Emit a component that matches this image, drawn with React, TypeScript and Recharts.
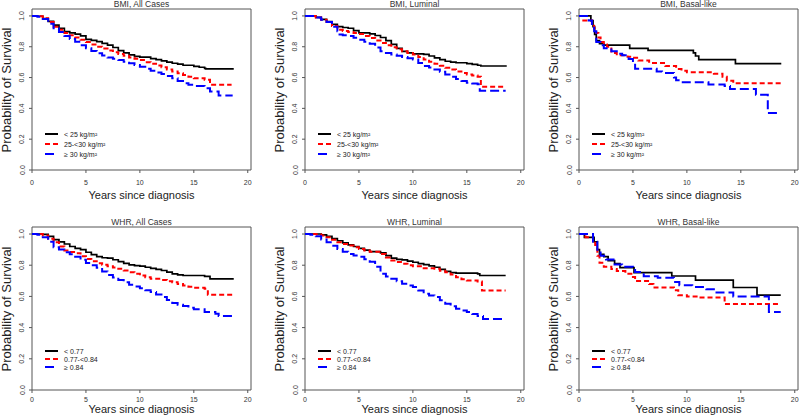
import React from 'react';
import { LineChart, Line, XAxis, YAxis, ReferenceArea, Legend } from 'recharts';

type Pt = [number, number];

const X_TICKS = [0, 5, 10, 15, 20];
const Y_TICKS = [0, 0.2, 0.4, 0.6, 0.8, 1.0];
const BMI_GROUPS = ['< 25 kg/m²', '25-<30 kg/m²', '≥ 30 kg/m²'];
const WHR_GROUPS = ['< 0.77', '0.77-<0.84', '≥ 0.84'];
const TITLES = ['BMI, All Cases', 'BMI, Luminal', 'BMI, Basal-like', 'WHR, All Cases', 'WHR, Luminal', 'WHR, Basal-like'];
const X_TITLE = 'Years since diagnosis';
const Y_TITLE = 'Probability of Survival';

// BMI, All Cases
const bmiAllLow: Pt[] = [[0,1],[0.5,0.998],[1,0.983],[1.5,0.965],[2,0.94],[2.5,0.92],[3,0.898],[3.5,0.89],[4,0.882],[4.5,0.87],[5,0.848],[5.5,0.842],[6,0.833],[6.5,0.822],[7,0.81],[7.5,0.795],[8,0.775],[8.5,0.76],[9,0.747],[9.5,0.737],[10,0.732],[11,0.723],[11.5,0.716],[12,0.708],[12.5,0.7],[13,0.693],[13.5,0.687],[14,0.68],[15,0.673],[15.5,0.667],[16,0.66],[16.1,0.656],[18.7,0.656]];
const bmiAllMid: Pt[] = [[0,1],[0.5,0.998],[1,0.985],[1.5,0.96],[2,0.93],[2.5,0.91],[3,0.89],[3.5,0.875],[4,0.86],[4.5,0.845],[5,0.83],[5.5,0.815],[6,0.8],[6.5,0.788],[7,0.775],[7.5,0.765],[8,0.753],[8.5,0.742],[9,0.73],[9.5,0.722],[10,0.714],[10.5,0.7],[11,0.69],[11.5,0.678],[12,0.667],[12.5,0.653],[13,0.64],[13.5,0.628],[14,0.617],[14.5,0.605],[15,0.595],[16,0.585],[16.5,0.553],[18.5,0.553]];
const bmiAllHigh: Pt[] = [[0,1],[0.5,0.995],[1,0.98],[1.5,0.95],[2,0.92],[2.5,0.895],[3,0.87],[3.5,0.85],[4,0.833],[4.5,0.81],[5,0.79],[5.5,0.772],[6,0.757],[6.5,0.743],[7,0.73],[7.5,0.722],[8,0.714],[8.5,0.703],[9,0.693],[9.5,0.682],[10,0.67],[10.5,0.657],[11,0.645],[11.5,0.633],[12,0.623],[12.5,0.61],[13,0.595],[13.5,0.578],[14,0.563],[14.5,0.553],[15,0.545],[16,0.53],[16.5,0.51],[17.3,0.483],[18.6,0.483]];

// BMI, Luminal
const bmiLumLow: Pt[] = [[0,1],[1,0.99],[1.5,0.978],[2,0.963],[2.5,0.945],[3,0.93],[3.5,0.925],[4,0.92],[4.5,0.905],[5,0.89],[6,0.883],[6.5,0.873],[7,0.86],[7.5,0.84],[8,0.815],[8.5,0.79],[9,0.77],[9.5,0.76],[10,0.754],[11,0.75],[11.5,0.74],[12,0.728],[12.5,0.717],[13,0.706],[13.5,0.7],[14,0.696],[15,0.69],[15.5,0.685],[16,0.68],[16.3,0.675],[18.7,0.675]];
const bmiLumMid: Pt[] = [[0,1],[1,0.99],[1.5,0.975],[2,0.96],[2.5,0.935],[3,0.91],[3.5,0.902],[4,0.895],[4.5,0.889],[5,0.883],[5.5,0.87],[6,0.857],[6.5,0.84],[7,0.825],[7.5,0.81],[8,0.797],[8.5,0.783],[9,0.77],[9.5,0.76],[10,0.75],[10.5,0.733],[11,0.717],[11.5,0.703],[12,0.69],[12.5,0.677],[13,0.664],[13.5,0.652],[14,0.64],[14.5,0.63],[15,0.62],[15.5,0.613],[16,0.606],[16.3,0.54],[18.6,0.54]];
const bmiLumHigh: Pt[] = [[0,1],[1,0.99],[1.5,0.975],[2,0.96],[2.5,0.93],[3,0.9],[3.2,0.88],[3.5,0.875],[4,0.87],[4.5,0.858],[5,0.846],[5.5,0.833],[6,0.82],[6.5,0.795],[7,0.77],[7.5,0.76],[8,0.75],[8.5,0.742],[9,0.734],[9.5,0.725],[10,0.717],[10.5,0.695],[11,0.675],[11.5,0.665],[12,0.653],[12.5,0.637],[13,0.62],[13.5,0.605],[14,0.59],[14.5,0.578],[15,0.567],[15.5,0.562],[16,0.557],[16.2,0.514],[18.6,0.514]];

// BMI, Basal-like
const bmiBasLow: Pt[] = [[0,1],[1.1,0.97],[1.3,0.93],[1.45,0.88],[1.6,0.84],[1.9,0.82],[2.3,0.81],[4.7,0.79],[6.4,0.777],[10.6,0.76],[10.8,0.74],[11.1,0.717],[14.5,0.69],[18.75,0.69]];
const bmiBasMid: Pt[] = [[0,1],[0.4,0.97],[1.2,0.95],[1.4,0.92],[1.6,0.89],[1.8,0.86],[2,0.83],[2.3,0.815],[2.6,0.8],[3,0.76],[3.5,0.745],[4.5,0.735],[5,0.728],[5.5,0.71],[6.5,0.695],[8,0.675],[9,0.655],[9.5,0.645],[10,0.635],[12.5,0.625],[13.3,0.606],[13.7,0.58],[14.3,0.563],[18.7,0.563]];
const bmiBasHigh: Pt[] = [[0,1],[0.9,0.97],[1.2,0.94],[1.4,0.9],[1.6,0.83],[2,0.81],[2.3,0.79],[3,0.77],[3.5,0.755],[4,0.745],[4.6,0.72],[5,0.69],[5.2,0.657],[7.2,0.64],[7.7,0.63],[8.8,0.6],[9,0.582],[9.5,0.57],[12,0.555],[13.5,0.545],[14,0.525],[16.4,0.488],[17.5,0.37],[18.6,0.37]];

// WHR, All Cases
const whrAllLow: Pt[] = [[0,1],[1,0.998],[1.5,0.985],[2,0.964],[2.5,0.95],[3,0.936],[3.5,0.92],[4,0.908],[4.5,0.9],[5,0.883],[5.5,0.868],[6,0.855],[6.5,0.848],[7,0.845],[7.5,0.835],[8,0.823],[8.5,0.812],[9,0.802],[9.5,0.798],[10,0.794],[10.5,0.787],[11,0.78],[11.5,0.773],[12,0.766],[12.5,0.756],[13,0.745],[13.5,0.738],[14,0.734],[16,0.728],[16.5,0.713],[18.7,0.713]];
const whrAllMid: Pt[] = [[0,1],[1,0.99],[1.5,0.97],[2,0.947],[2.5,0.92],[3,0.894],[3.5,0.885],[4,0.877],[4.5,0.858],[5,0.84],[5.5,0.826],[6,0.813],[6.5,0.803],[7,0.794],[7.5,0.785],[8,0.777],[8.5,0.766],[9,0.755],[9.5,0.745],[10,0.734],[10.5,0.723],[11,0.713],[12,0.706],[12.5,0.698],[13,0.691],[13.5,0.68],[14,0.67],[14.5,0.662],[15,0.655],[16,0.649],[16.3,0.61],[18.6,0.61]];
const whrAllHigh: Pt[] = [[0,1],[0.5,0.995],[1,0.98],[1.5,0.95],[2,0.915],[2.5,0.9],[3,0.883],[3.5,0.87],[4,0.855],[4.5,0.835],[5,0.815],[5.5,0.8],[6,0.783],[6.5,0.76],[7,0.738],[7.5,0.722],[8,0.706],[8.5,0.69],[9,0.674],[9.5,0.664],[10,0.653],[10.5,0.64],[11,0.628],[11.5,0.612],[12,0.596],[12.5,0.577],[13,0.557],[13.5,0.547],[14,0.538],[14.5,0.527],[15,0.517],[16,0.5],[17,0.489],[17.3,0.474],[18.6,0.474]];

// WHR, Luminal
const whrLumLow: Pt[] = [[0,1],[1.5,0.995],[2,0.985],[2.5,0.97],[3,0.957],[3.5,0.943],[4,0.93],[4.5,0.92],[5,0.908],[5.5,0.897],[6,0.887],[7,0.879],[7.5,0.862],[8,0.845],[8.5,0.838],[9,0.834],[9.5,0.826],[10,0.819],[10.5,0.81],[11,0.804],[11.5,0.796],[12,0.787],[12.5,0.773],[13,0.76],[13.5,0.752],[14,0.749],[16,0.745],[16.2,0.734],[18.6,0.734]];
const whrLumMid: Pt[] = [[0,1],[1,0.998],[1.5,0.99],[2,0.979],[2.5,0.963],[3,0.947],[3.5,0.936],[4,0.926],[4.5,0.915],[5,0.904],[5.5,0.895],[6,0.887],[7,0.872],[7.5,0.85],[8,0.83],[8.5,0.82],[9,0.809],[9.5,0.8],[10,0.794],[11,0.78],[12,0.777],[12.5,0.765],[13,0.755],[13.5,0.74],[14,0.723],[14.5,0.71],[15,0.702],[16,0.696],[16.4,0.638],[18.6,0.638]];
const whrLumHigh: Pt[] = [[0,1],[0.5,0.995],[1,0.985],[1.5,0.965],[2,0.947],[2.5,0.925],[3,0.904],[3.5,0.887],[4,0.872],[4.5,0.863],[5,0.855],[5.5,0.838],[6,0.823],[6.5,0.79],[7,0.745],[7.5,0.728],[8,0.713],[8.5,0.697],[9,0.681],[9.5,0.67],[10,0.66],[10.5,0.638],[11,0.617],[11.5,0.606],[12,0.596],[12.5,0.575],[13,0.553],[13.5,0.537],[14,0.521],[14.5,0.51],[15,0.5],[15.5,0.487],[16,0.474],[16.5,0.455],[18.6,0.455]];

// WHR, Basal-like
const whrBasLow: Pt[] = [[0,1],[0.5,0.979],[1.4,0.949],[1.7,0.9],[1.9,0.87],[2.3,0.855],[2.7,0.83],[3.3,0.811],[3.8,0.785],[5.1,0.752],[8.6,0.731],[10.8,0.705],[14.3,0.657],[16.5,0.608],[18.7,0.608]];
const whrBasMid: Pt[] = [[0,1],[0.6,0.98],[1.3,0.96],[1.5,0.93],[1.7,0.86],[1.9,0.816],[2.3,0.79],[3,0.775],[3.5,0.763],[4.3,0.746],[5,0.725],[5.2,0.699],[6.5,0.68],[6.9,0.657],[8.8,0.64],[9.2,0.608],[10,0.6],[11,0.593],[13.5,0.551],[18.7,0.551]];
const whrBasHigh: Pt[] = [[0,1],[1.3,0.95],[1.7,0.89],[2,0.86],[2.5,0.837],[3.2,0.805],[4,0.79],[5,0.77],[5.2,0.756],[6,0.73],[7.3,0.72],[8.8,0.693],[9.3,0.672],[10.5,0.66],[11.8,0.646],[12.5,0.625],[14.3,0.6],[17.6,0.5],[18.7,0.5]];

const STYLES = [
  { color: '#000000', dash: undefined as string | undefined, width: 1.7 },
  { color: '#ff0000', dash: '5 3', width: 2 },
  { color: '#0000ff', dash: '9 4', width: 2 },
];

const FONT = '"Liberation Sans", Arial, Helvetica, sans-serif';
const X_MAX = 20.3;
const Y_MAX = 1.045;
const BOX_W = 219;

interface PanelProps {
  title: string;
  series: Pt[][];
  groups: string[];
  boxLeft: number;
  boxTop: number;
  boxH: number;
  xTickDy: number;
  xTitleY: number;
  legendTop: number;
  legendGap: number;
}

function Panel(p: PanelProps) {
  const ML = 40, MT = 8, MR = 3, MB = 36;
  const width = ML + BOX_W + MR;
  const height = MT + p.boxH + MB;
  const data = p.series.map((s) => s.map(([t, v]) => ({ t, v })));
  const XTick = (props: any) => (
    <text x={props.x} y={props.y + p.xTickDy} textAnchor="middle" dominantBaseline="central" fontSize={7} fill="#333" fontFamily={FONT}>
      {props.payload.value}
    </text>
  );
  const YTick = (props: any) => {
    const tx = props.x - 5;
    return (
      <text x={tx} y={props.y} transform={`rotate(-90, ${tx}, ${props.y})`} textAnchor="middle" dominantBaseline="central" fontSize={7} fill="#333" fontFamily={FONT}>
        {Number(props.payload.value).toFixed(1)}
      </text>
    );
  };
  const LegendBox = () => (
    <svg width={120} height={p.legendGap * 2 + 10} style={{ display: 'block', overflow: 'visible' }}>
      {p.groups.map((g, i) => {
        const y = 5 + i * p.legendGap;
        const st = STYLES[i];
        return (
          <g key={g}>
            <line x1={0} x2={13} y1={y} y2={y} stroke={st.color} strokeWidth={2} strokeDasharray={st.dash} />
            <text x={19} y={y} dominantBaseline="central" fontSize={7} fill="#222" fontFamily={FONT}>{g}</text>
          </g>
        );
      })}
    </svg>
  );
  const cx = p.boxLeft + BOX_W / 2;
  return (
    <>
      <div style={{ position: 'absolute', left: p.boxLeft - ML, top: p.boxTop - MT }}>
        <LineChart width={width} height={height} margin={{ top: MT, right: MR, bottom: 0, left: 0 }}>
          <XAxis type="number" dataKey="t" domain={[0, X_MAX]} ticks={X_TICKS} interval={0} allowDataOverflow height={MB} tickSize={3} tickMargin={2} axisLine={false} stroke="#555" tick={XTick} />
          <YAxis type="number" dataKey="v" domain={[0, Y_MAX]} ticks={Y_TICKS} interval={0} allowDataOverflow width={ML} tickSize={3} tickMargin={2} axisLine={false} stroke="#555" tick={YTick} />
          <ReferenceArea x1={0} x2={X_MAX} y1={0} y2={Y_MAX} fill="none" fillOpacity={0} stroke="#555" strokeWidth={1} ifOverflow="visible" />
          {data.map((d, i) => (
            <Line key={i} data={d} dataKey="v" type="stepAfter" stroke={STYLES[i].color} strokeWidth={STYLES[i].width} strokeDasharray={STYLES[i].dash} dot={false} activeDot={false} isAnimationActive={false} name={p.groups[i]} />
          ))}
          <Legend layout="horizontal" verticalAlign="middle" align="center" content={LegendBox} wrapperStyle={{ left: ML + 13, top: MT + p.legendTop - 5, width: 'auto', height: 'auto' }} />
        </LineChart>
      </div>
      <div style={{ position: 'absolute', left: cx - 80, width: 160, top: p.boxTop - 10, textAlign: 'center', fontSize: 8.5, lineHeight: '10px', color: '#333', fontFamily: FONT }}>{p.title}</div>
      <div style={{ position: 'absolute', left: cx - 80, width: 160, top: p.xTitleY - 7, textAlign: 'center', fontSize: 11, lineHeight: '14px', color: '#222', fontFamily: FONT }}>{X_TITLE}</div>
      <div style={{ position: 'absolute', left: p.boxLeft - 25 - 80, width: 160, top: p.boxTop + p.boxH / 2 - 8, textAlign: 'center', fontSize: 13, lineHeight: '16px', color: '#222', fontFamily: FONT, transform: 'rotate(-90deg)' }}>{Y_TITLE}</div>
    </>
  );
}

const PANELS = [
  { series: [bmiAllLow, bmiAllMid, bmiAllHigh], groups: BMI_GROUPS },
  { series: [bmiLumLow, bmiLumMid, bmiLumHigh], groups: BMI_GROUPS },
  { series: [bmiBasLow, bmiBasMid, bmiBasHigh], groups: BMI_GROUPS },
  { series: [whrAllLow, whrAllMid, whrAllHigh], groups: WHR_GROUPS },
  { series: [whrLumLow, whrLumMid, whrLumHigh], groups: WHR_GROUPS },
  { series: [whrBasLow, whrBasMid, whrBasHigh], groups: WHR_GROUPS },
];

const BOX_LEFTS = [32, 305, 579];

export default function App() {
  return (
    <div style={{ position: 'absolute', left: 0, top: 0, width: 800, height: 420, background: '#fff', overflow: 'hidden' }}>
      {PANELS.map((pn, i) => {
        const row = Math.floor(i / 3);
        const col = i % 3;
        return (
          <Panel
            key={i}
            title={TITLES[i]}
            series={pn.series}
            groups={pn.groups}
            boxLeft={BOX_LEFTS[col]}
            boxTop={row === 0 ? 9 : 227}
            boxH={row === 0 ? 161 : 163}
            xTickDy={row === 0 ? 7.5 : 4}
            xTitleY={row === 0 ? 195 : 409}
            legendTop={row === 0 ? 125 : 124}
            legendGap={row === 0 ? 10 : 8}
          />
        );
      })}
    </div>
  );
}
